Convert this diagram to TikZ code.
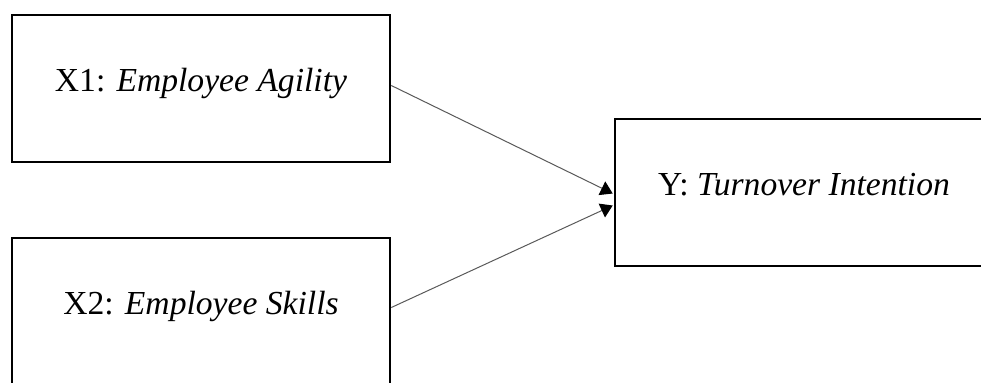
\documentclass[tikz,border=0pt]{standalone}
\usepackage{fontspec}
\setmainfont{Liberation Serif}
\usepackage{tikz}
\usetikzlibrary{calc}
\usetikzlibrary{arrows.meta}

\tikzset{
    varbox/.style={draw, line width=1.3pt, rectangle, inner sep=0pt,
        minimum width=189pt, minimum height=73.5pt,
        text height=12pt, text depth=9pt,
        font=\fontsize{16.8}{20}\selectfont},
    link/.style={draw=black!65, line width=0.5pt,
        -{Triangle[length=6pt,width=7.5pt,color=black]}}
}

\begin{document}
\begin{tikzpicture}[x=0.5pt, y=-0.5pt]
        \useasboundingbox (0, 0) rectangle (981, 382);
        \clip (0, 0) rectangle (981, 382);

        % The variables
        \node[varbox] (x1) at (201, 88.5) {X1: \textit{Employee Agility}};
        \node[varbox] (x2) at (201, 311.5) {X2: \textit{Employee Skills}};
        \node[varbox] (y) at (804, 192.5) {Y: \textit{Turnover Intention}};

        % The paths
        \draw[link] ($(x1.east)+(0, -3)$) -- ($(y.west)+(-1, 1)$);
        \draw[link] ($(x2.east)+(0, -4)$) -- ($(y.west)+(-1, 13)$);
    \end{tikzpicture}
\end{document}
